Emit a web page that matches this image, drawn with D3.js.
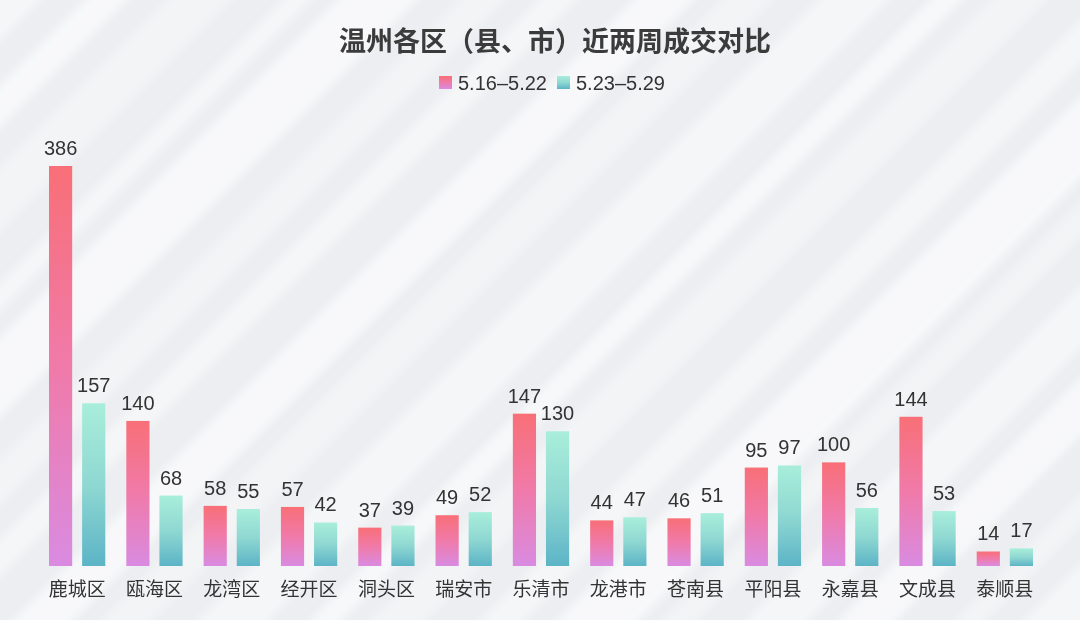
<!DOCTYPE html>
<html><head><meta charset="utf-8">
<script src="https://cdn.jsdelivr.net/npm/d3@7"></script>
<style>body{margin:0;background:#eef0f3;}svg{display:block;}</style>
</head><body><svg id="c" width="1080" height="620"></svg>
<script>
const categories = ["鹿城区","瓯海区","龙湾区","经开区","洞头区","瑞安市","乐清市","龙港市","苍南县","平阳县","永嘉县","文成县","泰顺县"];
const seriesNames = ["5.16–5.22","5.23–5.29"];
const week1 = [386,140,58,57,37,49,147,44,46,95,100,144,14];
const week2 = [157,68,55,42,39,52,130,47,51,97,56,53,17];
const title = "温州各区（县、市）近两周成交对比";

const W = 1080, H = 620;
const svg = d3.select("#c");
const defs = svg.append("defs");
const font = "'Liberation Sans','Noto Sans CJK SC',sans-serif";

// background
svg.append("rect").attr("width", W).attr("height", H).attr("fill", "#eceef1");
const blur = defs.append("filter").attr("id", "bl").attr("x", "-20%").attr("y", "-20%").attr("width", "140%").attr("height", "140%");
blur.append("feGaussianBlur").attr("stdDeviation", 4);
const bg = svg.append("g").attr("transform", "rotate(45)").attr("filter", "url(#bl)");
const stripeW = [40,22,55,30,18,48,26,60,34,20,44,28,52,24,38,30,46,20,56,32,26,42,36,50,22,40,30,58,24,44];
let sx = -900;
let k = 0;
while (sx < 1200) {
  const w = stripeW[k % stripeW.length];
  bg.append("rect").attr("x", sx).attr("y", -1500).attr("width", w).attr("height", 3000)
    .attr("fill", "#ffffff").attr("opacity", k % 3 === 0 ? 0.6 : (k % 3 === 1 ? 0.35 : 0.48));
  sx += w + stripeW[(k + 7) % stripeW.length] * 0.6 + 6;
  k++;
}

// gradients
const g1 = defs.append("linearGradient").attr("id", "g1").attr("x1", 0).attr("y1", 0).attr("x2", 0).attr("y2", 1);
g1.append("stop").attr("offset", "0%").attr("stop-color", "#f86f77");
g1.append("stop").attr("offset", "50%").attr("stop-color", "#f07aa9");
g1.append("stop").attr("offset", "100%").attr("stop-color", "#d98be1");
const g2 = defs.append("linearGradient").attr("id", "g2").attr("x1", 0).attr("y1", 0).attr("x2", 0).attr("y2", 1);
g2.append("stop").attr("offset", "0%").attr("stop-color", "#a9eedb");
g2.append("stop").attr("offset", "50%").attr("stop-color", "#8fd8d2");
g2.append("stop").attr("offset", "100%").attr("stop-color", "#5cb4c6");
const fills = ["url(#g1)", "url(#g2)"];

// scales
const x = d3.scaleBand().domain(categories).range([38.5, 1043.5]);
const xs = d3.scaleBand().domain([0, 1]).range([10.5, 66.8]).paddingInner(0.3);
const y = d3.scaleLinear().domain([0, 386]).range([566, 166]);

// title
svg.append("text").attr("x", 555).attr("y", 51).attr("text-anchor", "middle")
  .attr("font-family", font).attr("font-weight", "bold").attr("font-size", 27).attr("fill", "#3b3b3b").text(title);

// legend
const legX = [439, 557];
seriesNames.forEach((s, i) => {
  svg.append("rect").attr("x", legX[i]).attr("y", 76).attr("width", 13).attr("height", 13).attr("fill", fills[i]);
  svg.append("text").attr("x", legX[i] + 19).attr("y", 90).attr("font-family", font).attr("font-size", 20)
    .attr("fill", "#333").text(s);
});

const data = categories.map((c, i) => ({ c, v: [week1[i], week2[i]] }));
const grp = svg.append("g").selectAll("g").data(data).join("g")
  .attr("transform", d => `translate(${x(d.c)},0)`);
grp.selectAll("rect").data(d => d.v.map((v, i) => ({ v, i }))).join("rect")
  .attr("x", d => xs(d.i)).attr("width", xs.bandwidth())
  .attr("y", d => y(d.v)).attr("height", d => y(0) - y(d.v))
  .attr("fill", d => fills[d.i]);
grp.selectAll("text.v").data(d => d.v.map((v, i) => ({ v, i }))).join("text").attr("class", "v")
  .attr("x", d => xs(d.i) + xs.bandwidth() / 2).attr("y", d => y(d.v) - 11)
  .attr("text-anchor", "middle").attr("font-family", font).attr("font-size", 20).attr("fill", "#333")
  .text(d => d.v);

// x axis labels
const ax = svg.append("g").attr("transform", "translate(0,566)")
  .call(d3.axisBottom(x).tickSize(0).tickPadding(17));
ax.select(".domain").remove();
ax.selectAll("text").attr("font-family", font).attr("font-size", 19).attr("fill", "#333")
  .attr("dy", "0.71em");
</script></body></html>
